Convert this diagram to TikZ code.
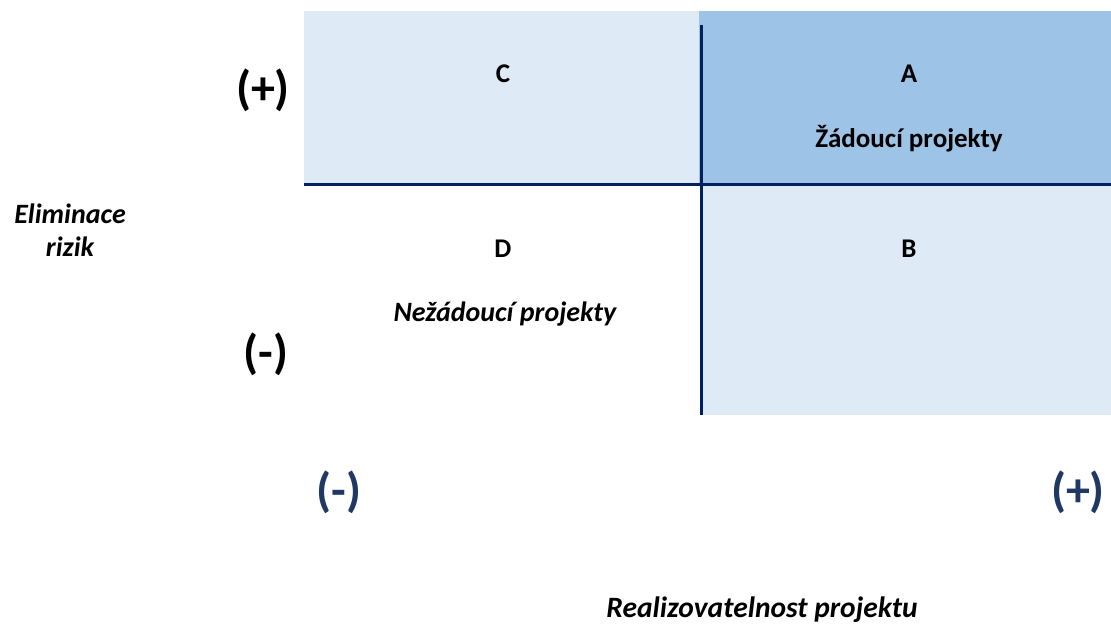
\documentclass[tikz,border=0pt]{standalone}
\usepackage{fontspec}
\setmainfont{Carlito}
\definecolor{lightq}{HTML}{DEEAF6}
\definecolor{darkq}{HTML}{9DC3E6}
\definecolor{navy}{HTML}{002060}
\definecolor{signblue}{HTML}{203864}
\begin{document}
\begin{tikzpicture}[x=1pt, y=-1pt,
  lbl/.style = {font=\fontsize{27}{32}\selectfont\bfseries, anchor=base},
  ilbl/.style = {font=\fontsize{28}{33}\selectfont\bfseries\itshape, anchor=base, align=center},
  sign/.style = {font=\fontsize{48}{52}\selectfont\bfseries},
  axis/.style = {navy, line width=3pt}]
\useasboundingbox (0,0) rectangle (1111,624);
% quadrants
\fill[lightq] (304,11) rectangle (699,183);
\fill[darkq] (699,11) rectangle (1111,183);
\fill[lightq] (701,185) rectangle (1111,415);
\draw[axis] (304,184) -- (1111,184);
\draw[axis] (701,25) -- (701,415);
% quadrant labels
\node[lbl] (c) at (503,82) {C};
\node[lbl] (a) at (909,82) {A};
\node[lbl] (good) at (909,147) {Žádoucí projekty};
\node[lbl] (d) at (503,257) {D};
\node[lbl] (b) at (909,257) {B};
\node[ilbl] (bad) at (505,321) {Nežádoucí projekty};
% axes
\node[ilbl] (risk) at (70,256) {Eliminace\\rizik};
\node[ilbl, font=\fontsize{29.5}{33}\selectfont\bfseries\itshape] (feas) at (762,617) {Realizovatelnost projektu};
\node[sign] (yplus) at (263,90) {(+)};
\node[sign] (yminus) at (266,354) {(-)};
\node[sign, signblue] (xminus) at (339,492) {(-)};
\node[sign, signblue] (xplus) at (1078,492) {(+)};
\end{tikzpicture}
\end{document}
